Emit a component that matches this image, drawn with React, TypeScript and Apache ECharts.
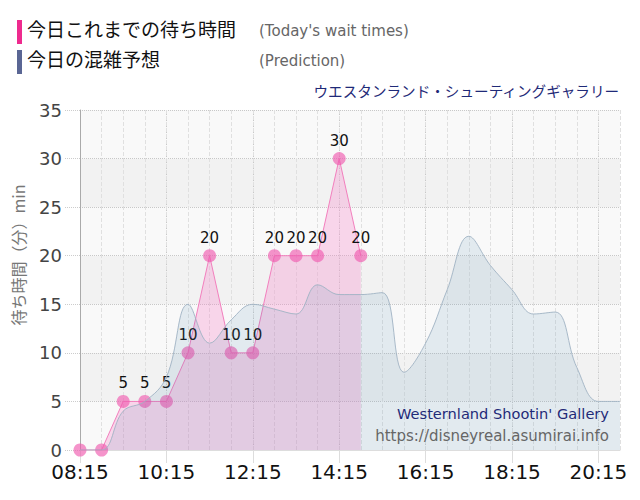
import { FC, useEffect, useRef } from "react";
import * as echarts from "echarts";

// 実績（30分ごと）
const waitTimes = ["08:15", "08:45", "09:15", "09:45", "10:15", "10:45", "11:15", "11:45", "12:15", "12:45", "13:15", "13:45", "14:15", "14:45"];
const waitValues = [0, 0, 5, 5, 5, 10, 20, 10, 10, 20, 20, 20, 30, 20];

// 予想
const predTimes = ["08:15", "08:45", "09:15", "09:45", "10:15", "10:45", "11:15", "11:45", "12:15", "12:45", "13:15", "13:45", "14:15", "14:45", "15:15", "15:45", "16:15", "16:45", "17:15", "17:45", "18:15", "18:45", "19:15", "19:45", "20:15", "20:45"];
const predValues = [0, 0, 4, 5, 7.5, 15, 11, 13.4, 15, 14.5, 14, 17, 16, 16, 16.2, 8, 11, 16.5, 22, 19, 16.5, 14, 14.2, 8.5, 5, 5];

const xTickLabels = ["08:15", "10:15", "12:15", "14:15", "16:15", "18:15", "20:15"];
const yTicks = [0, 5, 10, 15, 20, 25, 30, 35];

const START = "08:15";
const END = "20:45";

const toMin = (t: string) => {
  const [h, m] = t.split(":").map(Number);
  const [sh, sm] = START.split(":").map(Number);
  return h * 60 + m - (sh * 60 + sm);
};

const LATIN = "DejaVu Sans, Verdana, sans-serif";
const CJK = "Noto Sans CJK JP, sans-serif";

const WaitChart: FC = () => {
  const chartRef = useRef<HTMLDivElement | null>(null);

  useEffect(() => {
    if (!chartRef.current) return;
    const myChart = echarts.init(chartRef.current, null, { renderer: "svg" });
    const xMax = toMin(END);
    const tickValues = xTickLabels.map(toMin);

    const option = {
      animation: false,
      backgroundColor: "#fff",
      grid: { left: 80, right: 20, top: 110, bottom: 50, outerBoundsMode: "none" },
      xAxis: [
        {
          type: "value",
          min: 0,
          max: xMax,
          interval: 120,
          axisLine: { show: true, lineStyle: { color: "#ddd" } },
          axisTick: { show: true, length: 13, customValues: tickValues, lineStyle: { color: "#ddd" } },
          axisLabel: {
            customValues: tickValues,
            fontSize: 20,
            color: "#111",
            fontFamily: LATIN,
            margin: 12,
            formatter: (v: number) => xTickLabels[Math.round(v / 120)] ?? "",
          },
          splitLine: { show: true, lineStyle: { color: "#c8c8c8", type: "dotted" } },
        },
        {
          // 30分ごとの補助線
          type: "value",
          min: 0,
          max: xMax,
          interval: 30,
          axisLine: { show: false },
          axisTick: { show: false },
          axisLabel: { show: false },
          splitLine: { show: true, lineStyle: { color: "#e0e0e0", type: "dashed" } },
        },
      ],
      yAxis: {
        type: "value",
        min: 0,
        max: 35,
        interval: 5,
        axisLine: { show: true, lineStyle: { color: "#aaa" } },
        axisTick: { show: true, length: 15, lineStyle: { color: "#ccc", type: "dotted" } },
        axisLabel: {
          fontSize: 18,
          color: "#444",
          fontFamily: LATIN,
          margin: 18,
          formatter: (v: number) => (yTicks.includes(v) ? String(v) : ""),
        },
        splitLine: { show: true, lineStyle: { color: "#c8c8c8", type: "dotted" } },
        splitArea: { show: true, areaStyle: { color: ["#f9f9f9", "#f2f2f2"] } },
      },
      series: [
        {
          name: "今日これまでの待ち時間",
          type: "line",
          data: waitTimes.map((t, i) => [toMin(t), waitValues[i]]),
          symbol: "circle",
          symbolSize: 13,
          itemStyle: { color: "rgba(240,90,175,0.65)" },
          lineStyle: { color: "#f27fbd", width: 1 },
          areaStyle: { color: "rgba(247,134,200,0.45)" },
          label: {
            show: true,
            position: "top",
            distance: 4,
            fontSize: 15,
            color: "#111",
            fontFamily: LATIN,
            formatter: (p: any) => (p.value[1] > 0 ? String(p.value[1]) : ""),
          },
          z: 2,
        },
        {
          name: "今日の混雑予想",
          type: "line",
          data: predTimes.map((t, i) => [toMin(t), predValues[i]]),
          smooth: 0.4,
          symbol: "none",
          lineStyle: { color: "rgba(160,178,195,0.9)", width: 1 },
          areaStyle: { color: "rgba(75,136,175,0.18)" },
          z: 3,
        },
      ],
      graphic: [
        { type: "rect", left: 17, top: 20, shape: { width: 5, height: 24 }, style: { fill: "#ee2a8e" } },
        { type: "text", left: 27, top: 19, style: { text: "今日これまでの待ち時間", fontSize: 19, fontFamily: CJK, fill: "#111" } },
        { type: "text", left: 259, top: 23, style: { text: "(Today's wait times)", fontSize: 15, fontFamily: LATIN, fill: "#666" } },
        { type: "rect", left: 17, top: 50, shape: { width: 5, height: 24 }, style: { fill: "#5a6694" } },
        { type: "text", left: 27, top: 49, style: { text: "今日の混雑予想", fontSize: 19, fontFamily: CJK, fill: "#111" } },
        { type: "text", left: 259, top: 53, style: { text: "(Prediction)", fontSize: 15, fontFamily: LATIN, fill: "#666" } },
        {
          type: "text",
          right: 20,
          top: 83,
          style: { text: "ウエスタンランド・シューティングギャラリー", fontSize: 14.6, fontFamily: CJK, fill: "#1f2a78" },
        },
        {
          type: "text",
          x: 18,
          y: 255,
          rotation: Math.PI / 2,
          style: {
            text: "待ち時間（分）min",
            fontSize: 16,
            fontFamily: CJK,
            fill: "#777",
            align: "center",
            verticalAlign: "middle",
          },
        },
        {
          type: "text",
          right: 31,
          top: 406,
          z: 10,
          style: { text: "Westernland Shootin' Gallery", fontSize: 14.6, fontFamily: LATIN, fill: "#1f2a78" },
        },
        {
          type: "text",
          right: 31,
          top: 428,
          z: 10,
          style: { text: "https://disneyreal.asumirai.info", fontSize: 15, fontFamily: LATIN, fill: "#666" },
        },
      ],
    };

    myChart.setOption(option);
    return () => {
      myChart.dispose();
    };
  }, []);

  return <div ref={chartRef} style={{ position: "fixed", left: 0, top: 0, width: 640, height: 500 }} />;
};

export default function App() {
  return <WaitChart />;
}
